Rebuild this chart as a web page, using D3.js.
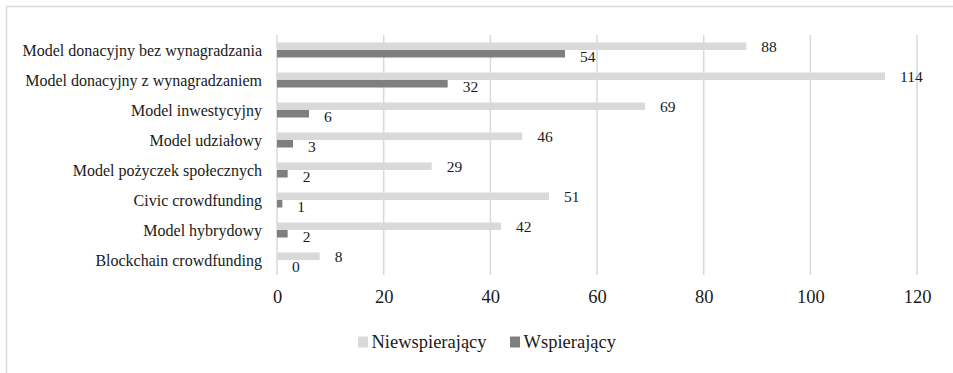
<!DOCTYPE html>
<html>
<head>
<meta charset="utf-8">
<script src="https://cdn.jsdelivr.net/npm/d3@7"></script>
<style>
  html, body { margin: 0; padding: 0; background: #fff; }
  svg { display: block; }
</style>
</head>
<body>
<svg id="chart" width="953" height="373"></svg>
<script>
// Crowdfunding models: counts of non-supporting vs supporting respondents
const categories = [
  "Model donacyjny bez wynagradzania",
  "Model donacyjny z wynagradzaniem",
  "Model inwestycyjny",
  "Model udziałowy",
  "Model pożyczek społecznych",
  "Civic crowdfunding",
  "Model hybrydowy",
  "Blockchain crowdfunding"
];
const niewspierajacy = [88, 114, 69, 46, 29, 51, 42, 8];
const wspierajacy = [54, 32, 6, 3, 2, 1, 2, 0];
const seriesNames = ["Niewspierający", "Wspierający"];
const xTicks = [0, 20, 40, 60, 80, 100, 120];

const colors = ["#d9d9d9", "#7f7f7f"];
const FONT = "Liberation Serif";
const TEXT = "#1a1a1a";
const svg = d3.select("#chart");

// outer chart frame (only top and left edges fall inside the view)
svg.append("rect")
  .attr("x", 6.5).attr("y", 6.5)
  .attr("width", 1000).attr("height", 1000)
  .attr("fill", "none").attr("stroke", "#d9d9d9").attr("stroke-width", 1.5);

const plot = { left: 277, right: 917, top: 35, bottom: 275 };

const x = d3.scaleLinear().domain([0, 120]).range([plot.left, plot.right]);
const y = d3.scaleBand().domain(categories).range([plot.top, plot.bottom]).paddingInner(0.5).paddingOuter(0.25);
const sub = d3.scaleBand().domain(seriesNames).range([0, y.bandwidth()]);

// vertical gridlines
svg.append("g").selectAll("line").data(xTicks).join("line")
  .attr("x1", d => x(d)).attr("x2", d => x(d))
  .attr("y1", plot.top).attr("y2", plot.bottom)
  .attr("stroke", "#d9d9d9").attr("stroke-width", 1.5);

// x axis tick labels
const xAxis = d3.axisBottom(x).tickValues(xTicks).tickSize(0).tickPadding(0).tickFormat(d3.format("d"));
const gx = svg.append("g").attr("transform", `translate(0,${plot.bottom + 22})`)
  .call(xAxis).attr("font-family", null).attr("font-size", null);
gx.select(".domain").remove();
gx.selectAll("text")
  .attr("dy", "0.35em")
  .style("font-family", FONT).style("font-size", "18.5px").style("fill", TEXT);

// category labels
const yAxis = d3.axisLeft(y).tickSize(0).tickPadding(0);
const gy = svg.append("g").attr("transform", `translate(${plot.left - 15},1)`)
  .call(yAxis).attr("font-family", null).attr("font-size", null);
gy.select(".domain").remove();
gy.selectAll("text")
  .style("font-family", FONT).style("font-size", "16px").style("fill", TEXT);

const rows = categories.map((c, i) => ({ c, vals: [niewspierajacy[i], wspierajacy[i]] }));

const groups = svg.append("g").selectAll("g").data(rows).join("g")
  .attr("transform", d => `translate(0,${y(d.c)})`);

groups.selectAll("rect").data(d => d.vals.map((v, j) => ({ v, s: seriesNames[j], j }))).join("rect")
  .attr("x", x(0)).attr("y", d => sub(d.s))
  .attr("width", d => x(d.v) - x(0))
  .attr("height", sub.bandwidth())
  .attr("fill", d => colors[d.j]);

// value labels beyond bar ends
groups.selectAll("text.val").data(d => d.vals.map((v, j) => ({ v, s: seriesNames[j], j }))).join("text")
  .attr("class", "val")
  .attr("x", d => x(d.v) + 15)
  .attr("y", d => sub(d.s) + sub.bandwidth() / 2 + (d.j === 1 ? 3 : 0))
  .attr("dy", "0.35em")
  .style("font-family", FONT).style("font-size", "15.5px").style("fill", TEXT)
  .text(d => d.v);

// legend
const legend = svg.append("g").attr("transform", "translate(358,336)");
const items = [{ n: seriesNames[0], c: colors[0], x: 0 }, { n: seriesNames[1], c: colors[1], x: 152 }];
const li = legend.selectAll("g").data(items).join("g").attr("transform", d => `translate(${d.x},0)`);
li.append("rect").attr("width", 10).attr("height", 11).attr("y", 0.5).attr("fill", d => d.c);
li.append("text").attr("x", 13.5).attr("y", 6).attr("dy", "0.35em")
  .style("font-family", FONT).style("font-size", "18.5px").style("fill", TEXT)
  .text(d => d.n);
</script>
</body>
</html>
